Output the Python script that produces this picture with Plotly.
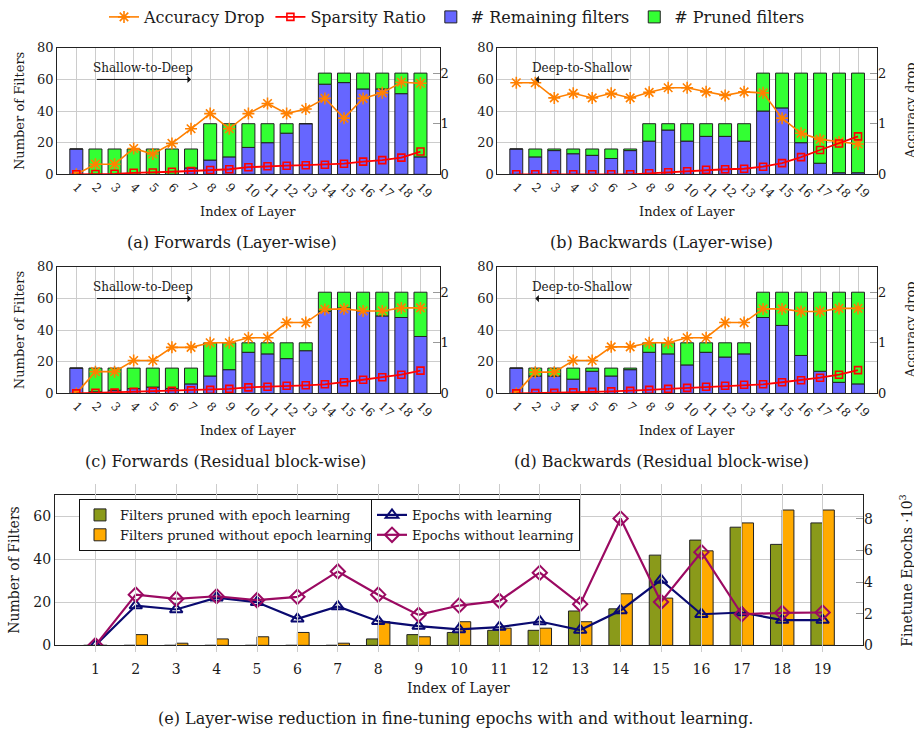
import plotly.graph_objects as go

# ---------------- data ----------------
layers = list(range(1, 20))
totals = [16] * 7 + [32] * 6 + [64] * 6

a_remaining = [16, 0, 0, 0, 0, 0, 4, 9, 11, 17, 20, 26, 32, 57, 58, 54, 54, 51, 11]
a_acc = [0, 0.2, 0.2, 0.51, 0.40, 0.61, 0.90, 1.20, 0.90, 1.20, 1.40, 1.20, 1.29, 1.50, 1.11, 1.50, 1.61, 1.82, 1.80]
a_sp = [0, 0.005, 0.01, 0.03, 0.035, 0.05, 0.065, 0.085, 0.10, 0.14, 0.16, 0.17, 0.18, 0.19, 0.21, 0.25, 0.28, 0.33, 0.45]

b_remaining = [16, 11, 15, 13, 12, 10, 15, 21, 28, 21, 24, 24, 21, 40, 42, 20, 7, 1, 1]
b_acc = [1.81, 1.81, 1.51, 1.60, 1.51, 1.60, 1.51, 1.62, 1.71, 1.71, 1.63, 1.56, 1.63, 1.61, 1.11, 0.81, 0.69, 0.64, 0.60]
b_sp = [0, 0, 0, 0, 0, 0, 0, 0.02, 0.04, 0.06, 0.09, 0.10, 0.11, 0.15, 0.22, 0.34, 0.48, 0.61, 0.75]

c_remaining = [16, 1, 2, 3, 4, 3, 6, 11, 15, 26, 25, 22, 27, 52, 54, 52, 49, 48, 36]
c_acc = [0, 0.43, 0.43, 0.65, 0.65, 0.91, 0.91, 1.0, 1.0, 1.10, 1.10, 1.40, 1.40, 1.66, 1.67, 1.63, 1.63, 1.69, 1.69]
c_sp = [0, 0.01, 0.015, 0.03, 0.035, 0.05, 0.06, 0.07, 0.09, 0.12, 0.13, 0.15, 0.16, 0.18, 0.22, 0.27, 0.32, 0.37, 0.45]

d_remaining = [16, 11, 11, 9, 14, 11, 15, 26, 25, 18, 26, 23, 25, 48, 43, 24, 14, 7, 6]
d_acc = [0, 0.42, 0.42, 0.65, 0.65, 0.92, 0.92, 1.0, 1.0, 1.10, 1.10, 1.40, 1.40, 1.67, 1.67, 1.62, 1.62, 1.68, 1.68]
d_sp = [0, 0.005, 0.01, 0.02, 0.03, 0.04, 0.05, 0.07, 0.09, 0.11, 0.13, 0.15, 0.17, 0.18, 0.22, 0.26, 0.31, 0.37, 0.46]

e_with = [0, 0, 0, 0, 0, 0, 0, 3, 5, 6, 7, 7, 16, 17, 42, 49, 55, 47, 57]
e_without = [0, 5, 1, 3, 4, 6, 1, 11, 4, 11, 8, 8, 11, 24, 22, 44, 57, 63, 63]
e_ep_with = [0, 2.52, 2.27, 3.02, 2.73, 1.68, 2.46, 1.53, 1.22, 1.01, 1.16, 1.51, 0.97, 2.21, 4.14, 1.97, 2.08, 1.60, 1.60]
e_ep_without = [0, 3.21, 2.94, 3.11, 2.86, 3.07, 4.68, 3.21, 1.93, 2.52, 2.82, 4.60, 2.61, 8.03, 2.75, 5.90, 1.97, 2.06, 2.08]

captions = [
    "(a) Forwards (Layer-wise)",
    "(b) Backwards (Layer-wise)",
    "(c) Forwards (Residual block-wise)",
    "(d) Backwards (Residual block-wise)",
    "(e) Layer-wise reduction in fine-tuning epochs with and without learning.",
]

# ---------------- style ----------------
W, H = 914, 733
FONT = "DejaVu Serif"
BLUE = "#6666ff"
GREEN = "#33ff33"
ORANGE = "#ff8000"
RED = "#ff0000"
OLIVE = "#8a9a1a"
ORANGE_BAR = "#ffaa00"
NAVY = "#0a0a70"
PURPLE = "#9b0a62"
GRID = "#cccccc"
TXT = "#1a1a1a"


def px_x(v):
    return v / W


def px_y(v):
    return 1 - v / H


def note(x, y, text, size, angle=0, **kw):
    d = dict(x=px_x(x), y=px_y(y), xref="paper", yref="paper", text=text, showarrow=False,
             xanchor="center", yanchor="middle", textangle=angle,
             font=dict(size=size, color=TXT, family=FONT))
    d.update(kw)
    return d


fig = go.Figure()

panels = [
    dict(x="x", yl="y", yr="y2", xd=(57.2, 439.6), yd=(45, 172), rem=a_remaining, acc=a_acc, sp=a_sp,
         text="Shallow-to-Deep", forward=True, left_title=True, right_title=False),
    dict(x="x2", yl="y3", yr="y4", xd=(497.3, 877), yd=(45, 172), rem=b_remaining, acc=b_acc, sp=b_sp,
         text="Deep-to-Shallow", forward=False, left_title=False, right_title=True),
    dict(x="x3", yl="y5", yr="y6", xd=(57.2, 439.6), yd=(265, 392), rem=c_remaining, acc=c_acc, sp=c_sp,
         text="Shallow-to-Deep", forward=True, left_title=True, right_title=False),
    dict(x="x4", yl="y7", yr="y8", xd=(497.3, 877), yd=(265, 392), rem=d_remaining, acc=d_acc, sp=d_sp,
         text="Deep-to-Shallow", forward=False, left_title=False, right_title=True),
]


def axkey(name):
    return name[0] + "axis" + name[1:]


annotations = []
layout_axes = {}

for i, p in enumerate(panels):
    first = i == 0
    pruned = [t - r for t, r in zip(totals, p["rem"])]
    fig.add_trace(go.Bar(x=layers, y=p["rem"], base=[0] * len(layers), width=0.68,
                         marker=dict(color=BLUE, line=dict(color="#222222", width=1)),
                         name="# Remaining filters", showlegend=first, legend="legend", legendrank=3,
                         xaxis=p["x"], yaxis=p["yl"]))
    fig.add_trace(go.Bar(x=layers, y=pruned, base=p["rem"], width=0.68,
                         marker=dict(color=GREEN, line=dict(color="#222222", width=1)),
                         name="# Pruned filters", showlegend=first, legend="legend", legendrank=4,
                         xaxis=p["x"], yaxis=p["yl"]))
    fig.add_trace(go.Scatter(x=layers, y=p["acc"], mode="lines+markers",
                             line=dict(color=ORANGE, width=1.6),
                             marker=dict(symbol="asterisk-open", size=10, color=ORANGE,
                                         line=dict(color=ORANGE, width=1.6)),
                             name="Accuracy Drop", showlegend=first, legend="legend", legendrank=1,
                             xaxis=p["x"], yaxis=p["yr"]))
    fig.add_trace(go.Scatter(x=layers, y=p["sp"], mode="lines+markers",
                             line=dict(color=RED, width=1.8),
                             marker=dict(symbol="square-open", size=7, color=RED,
                                         line=dict(color=RED, width=1.6)),
                             name="Sparsity Ratio", showlegend=first, legend="legend", legendrank=2,
                             xaxis=p["x"], yaxis=p["yr"]))

    xd = [px_x(p["xd"][0]), px_x(p["xd"][1])]
    yd = [px_y(p["yd"][1]), px_y(p["yd"][0])]
    layout_axes[axkey(p["x"])] = dict(
        domain=xd, anchor=p["yl"], range=[0, 20], tickmode="array", tickvals=layers,
        ticktext=[str(v) for v in layers], tickangle=45, showgrid=True, gridcolor=GRID, gridwidth=1,
        showline=True, linecolor="#222222", linewidth=1, mirror=True, zeroline=False, automargin=False,
        ticks="", tickfont=dict(size=12, color=TXT, family=FONT))
    layout_axes[axkey(p["yl"])] = dict(
        domain=yd, anchor=p["x"], range=[0, 80], tickmode="array", tickvals=[0, 20, 40, 60, 80],
        showgrid=True, gridcolor=GRID, gridwidth=1, showline=True, linecolor="#222222", linewidth=1,
        mirror=True, zeroline=False, automargin=False, ticks="",
        tickfont=dict(size=13, color=TXT, family=FONT))
    layout_axes[axkey(p["yr"])] = dict(
        overlaying=p["yl"], anchor=p["x"], side="right", range=[0, 2.5], tickmode="array",
        tickvals=[0, 1, 2], showgrid=False, showline=False, zeroline=False, ticks="inside",
        automargin=False, ticklen=7, tickcolor="#999999", tickfont=dict(size=13, color=TXT, family=FONT))

    # direction arrow and label
    if p["forward"]:
        head, tail = 7, 2
    else:
        head, tail = 2, 7
    annotations.append(dict(x=head, y=60, ax=tail, ay=60, xref=p["x"], yref=p["yl"], axref=p["x"],
                            ayref=p["yl"], text="", showarrow=True, arrowhead=1, arrowsize=1.2,
                            arrowwidth=1, arrowcolor="#111111", standoff=0, startstandoff=0))
    annotations.append(dict(x=4.5, y=67, xref=p["x"], yref=p["yl"], text=p["text"], showarrow=False,
                            xanchor="center", yanchor="middle",
                            font=dict(size=12, color=TXT, family=FONT)))

    # axis titles
    cx = (p["xd"][0] + p["xd"][1]) / 2
    annotations.append(note(cx, p["yd"][1] + 37, "Index of Layer", 13))
    cy = (p["yd"][0] + p["yd"][1]) / 2
    if p["left_title"]:
        annotations.append(note(19, cy, "Number of Filters", 13, angle=-90))
    if p["right_title"]:
        annotations.append(note(910, cy, "Accuracy drop", 13, angle=-90))

# ---------------- panel (e) ----------------
fig.add_trace(go.Scatter(x=[None], y=[None], xaxis="x6", yaxis="y11", showlegend=False, hoverinfo="skip"))

fig.add_trace(go.Bar(x=layers, y=e_with, width=0.29, offset=-0.29,
                     marker=dict(color=OLIVE, line=dict(color="#222222", width=1)),
                     name="Filters pruned with epoch learning", legend="legend2",
                     xaxis="x5", yaxis="y9"))
fig.add_trace(go.Bar(x=layers, y=e_without, width=0.29, offset=0.0,
                     marker=dict(color=ORANGE_BAR, line=dict(color="#222222", width=1)),
                     name="Filters pruned without epoch learning", legend="legend2",
                     xaxis="x5", yaxis="y9"))
fig.add_trace(go.Scatter(x=layers, y=e_ep_with, mode="lines+markers",
                         line=dict(color=NAVY, width=2.2),
                         marker=dict(symbol="triangle-up-open", size=11, color=NAVY,
                                     line=dict(color=NAVY, width=2)),
                         name="Epochs with learning", legend="legend3",
                         xaxis="x5", yaxis="y10"))
fig.add_trace(go.Scatter(x=layers, y=e_ep_without, mode="lines+markers",
                         line=dict(color=PURPLE, width=2.2),
                         marker=dict(symbol="diamond-open", size=11, color=PURPLE,
                                     line=dict(color=PURPLE, width=2)),
                         name="Epochs without learning", legend="legend3",
                         xaxis="x5", yaxis="y10"))

exd = [px_x(55), px_x(863)]
eyd = [px_y(645), px_y(494)]
layout_axes["xaxis5"] = dict(
    domain=exd, anchor="y9", range=[0, 20], tickmode="array", tickvals=layers,
    showgrid=True, gridcolor=GRID, showline=True, linecolor="#222222", linewidth=1, mirror=True,
    zeroline=False, automargin=False, ticks="outside", ticklen=11, tickcolor="rgba(0,0,0,0)",
    tickfont=dict(size=14, color=TXT, family=FONT))
layout_axes["yaxis9"] = dict(
    domain=eyd, anchor="x5", range=[0, 70], tickmode="array", tickvals=[0, 20, 40, 60],
    showgrid=True, gridcolor=GRID, showline=True, linecolor="#222222", linewidth=1, mirror=True,
    zeroline=False, automargin=False, ticks="", tickfont=dict(size=14, color=TXT, family=FONT))
layout_axes["yaxis10"] = dict(
    overlaying="y9", anchor="x5", side="right", range=[0, 9.52], tickmode="array",
    tickvals=[0, 2, 4, 6, 8], showgrid=False, showline=False, zeroline=False, ticks="inside",
    automargin=False, ticklen=7, tickcolor="#999999", tickfont=dict(size=14, color=TXT, family=FONT))
layout_axes["xaxis6"] = dict(
    domain=exd, anchor="y11", range=[0, 20], tickmode="array", tickvals=layers, showgrid=True,
    gridcolor=GRID, showticklabels=False, ticks="", showline=False, zeroline=False, automargin=False)
layout_axes["yaxis11"] = dict(
    domain=[px_y(652), px_y(483)], anchor="x6", range=[0, 1], showgrid=False, showticklabels=False,
    ticks="", showline=False, zeroline=False, automargin=False)

annotations.append(note(459, 688, "Index of Layer", 14))
annotations.append(note(14, 570, "Number of Filters", 14, angle=-90))
annotations.append(note(906, 570, "Finetune Epochs ·10<sup>3</sup>", 14, angle=-90))

# captions
cap_pos = [(232, 240), (661, 240), (225, 460), (661, 460), (455, 718)]
for t, (cx, cy) in zip(captions, cap_pos):
    annotations.append(note(cx, cy, t, 16))

fig.update_layout(
    template="none",
    width=W, height=H, margin=dict(l=0, r=0, t=0, b=0, pad=0), autosize=False,
    paper_bgcolor="white", plot_bgcolor="rgba(0,0,0,0)",
    barmode="overlay",
    font=dict(family=FONT, color=TXT),
    annotations=annotations,
    legend=dict(orientation="h", x=0.5, xanchor="center", y=px_y(14), yanchor="middle",
                font=dict(size=16, family=FONT, color=TXT), bgcolor="rgba(0,0,0,0)",
                itemwidth=30, traceorder="normal"),
    legend2=dict(x=px_x(79), y=px_y(498), xanchor="left", yanchor="top", bgcolor="white",
                 bordercolor="#111111", borderwidth=1, font=dict(size=13, family=FONT, color=TXT),
                 tracegroupgap=0, itemwidth=30),
    legend3=dict(x=px_x(371), y=px_y(498), xanchor="left", yanchor="top", bgcolor="white",
                 bordercolor="#111111", borderwidth=1, font=dict(size=13, family=FONT, color=TXT),
                 tracegroupgap=0),
    showlegend=True,
    **layout_axes,
)

fig.write_html("out.html", config=dict(displayModeBar=False),
               post_script="document.body.style.margin='0px';")
